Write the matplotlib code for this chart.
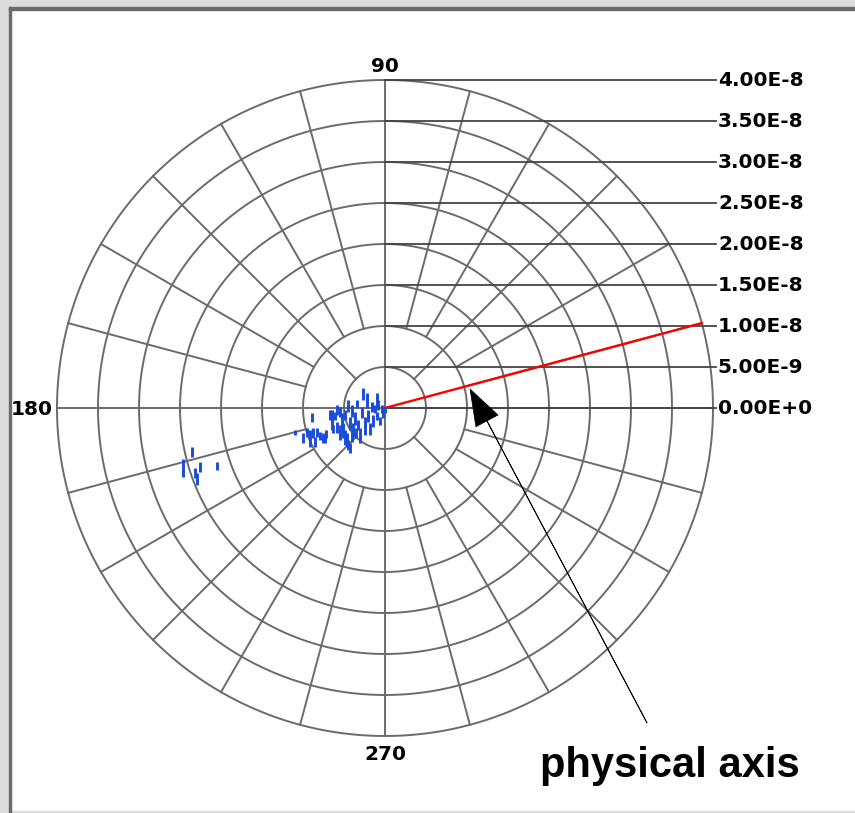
import numpy as np
import matplotlib.pyplot as plt
from matplotlib.patches import Rectangle

# measured components, units of 1e-9
x = [-6.47, -6.1, -5.86, -5.49, -5.25, -5.12, -4.88, -4.64, -4.52, -4.27,
     -4.03, -3.9, -3.66, -3.42, -3.29, -3.05, -2.81, -2.68, -2.44, -2.2,
     -2.07, -1.83, -1.59, -1.46, -1.22, -0.98, -0.85, -0.61, -0.37, -0.24,
     0.0, -10.98, -10.0, -9.52, -9.15, -8.91, -8.78, -8.54, -8.3, -7.93,
     -7.56, -6.71, -7.2, -6.34, -4.52, -4.88, -4.03, -3.54, -5.49, -2.44,
     -5.86, -6.47, -7.32, -0.98, -2.2, -4.27,
     -24.6, -23.5, -23.2, -22.9, -22.6, -20.5]
y = [-1.95, -0.98, -2.38, -0.49, -1.53, -2.75, -0.85, -3.9, 0.24, -1.89,
     -0.37, -2.68, -1.28, 0.49, -2.07, -3.36, -0.55, 1.71, -1.71, 0.67,
     -0.98, -2.56, 0.12, -1.59, -0.12, -0.98, 0.37, -1.59, -0.12, -0.55,
     -0.24, -2.99, -3.66, -2.99, -3.72, -1.16, -3.05, -4.15, -2.99, -3.42,
     -3.66, -0.85, -3.17, -2.56, -4.51, -3.6, -3.42, -3.05, -2.99, -2.68,
     -0.24, -0.98, -3.78, 0.92, 1.22, -4.88,
     -7.3, -5.37, -7.9, -8.66, -7.2, -7.08]
yerr = [0.73, 0.49, 0.67, 0.61, 0.92, 0.92, 0.61, 0.85, 0.73, 0.79,
        0.73, 0.85, 0.79, 0.49, 0.61, 0.92, 0.67, 0.73, 0.61, 0.67,
        0.73, 0.73, 0.61, 0.73, 0.49, 0.49, 0.61, 0.49, 0.49, 0.67,
        0.37, 0.31, 0.61, 0.55, 1.04, 0.55, 0.61, 0.61, 0.55, 0.49,
        0.61, 0.61, 0.49, 0.49, 0.61, 0.92, 0.73, 0.61, 0.92, 0.61,
        0.61, 0.73, 0.49, 0.92, 0.61, 0.61,
        1.1, 0.61, 0.61, 0.73, 0.61, 0.49]

rings = [5, 10, 15, 20, 25, 30, 35, 40]
ring_labels = ['0.00E+0', '5.00E-9', '1.00E-8', '1.50E-8', '2.00E-8',
               '2.50E-8', '3.00E-8', '3.50E-8', '4.00E-8']
axis_angle = 15.0   # physical axis direction, degrees
rmax = 40

grid_c = '#6b6b6b'

fig = plt.figure(figsize=(8.55, 8.13), dpi=100)
ax = fig.add_axes([0, 0, 1, 1])
u = 40 / 328.0
ax.set_xlim(-385 * u, (855 - 385) * u)
ax.set_ylim(-(813 - 408) * u, 408 * u)
ax.axis('off')

# circles
t = np.linspace(0, 2 * np.pi, 721)
for r in rings:
    ax.plot(r * np.cos(t), r * np.sin(t), color=grid_c, lw=1.4, zorder=1)

# spokes every 15 degrees
for a in range(0, 360, 15):
    if a % 90 == 0:
        r0 = 0
    elif a % 45 == 0:
        r0 = 5
    else:
        r0 = 10
    th = np.deg2rad(a)
    ax.plot([r0 * np.cos(th), rmax * np.cos(th)],
            [r0 * np.sin(th), rmax * np.sin(th)], color=grid_c, lw=1.4, zorder=1)

# radial scale lines out to labels
xl = 40.6
for r, lab in zip([0] + rings, ring_labels):
    ax.plot([0, xl - 0.2], [r, r], color='#444444', lw=1.3, zorder=1)
    ax.text(xl, r, lab, ha='left', va='center', fontsize=14.5,
            fontweight='bold', family='DejaVu Sans')

ax.text(0, 41.7, '90', ha='center', va='center', fontsize=14.5, fontweight='bold')
ax.text(0, -42.3, '270', ha='center', va='center', fontsize=14.5, fontweight='bold')
ax.text(-40.5, -0.2, '180', ha='right', va='center', fontsize=14.5, fontweight='bold')

# physical axis
th = np.deg2rad(axis_angle)
ax.plot([0, rmax * np.cos(th)], [0, rmax * np.sin(th)], color='red', lw=1.7, zorder=3)

ax.errorbar(x, y, yerr=yerr, fmt='none', ecolor='#1a4cd9', elinewidth=2.1,
            capsize=0, zorder=4)

ax.annotate('', xy=(10.37, 2.32), xytext=(31.95, -38.4),
            arrowprops=dict(width=0.3, headwidth=18, headlength=26,
                            facecolor='black', edgecolor='black', lw=0.5))
ax.text(18.9, -43.6, 'physical axis', ha='left', va='center', fontsize=30,
        fontweight='bold', family='Liberation Sans')

# window frame
W, H = 855.0, 813.0
fig.patches.append(Rectangle((0, 0), 9 / W, 1, transform=fig.transFigure,
                             color='#dcdcdc', zorder=0))
fig.patches.append(Rectangle((0, 1 - 7 / H), 1, 7 / H, transform=fig.transFigure,
                             color='#dcdcdc', zorder=0))
fig.patches.append(Rectangle((0, 0), 1, 2 / H, transform=fig.transFigure,
                             color='#dcdcdc', zorder=0))
fig.patches.append(Rectangle((9 / W, 0), 2 / W, 1 - 7 / H, transform=fig.transFigure,
                             color='#6a6a6a', zorder=0))
fig.patches.append(Rectangle((9 / W, 1 - 10 / H), 1, 3 / H, transform=fig.transFigure,
                             color='#6a6a6a', zorder=0))

fig.savefig('out.png', dpi=100)
